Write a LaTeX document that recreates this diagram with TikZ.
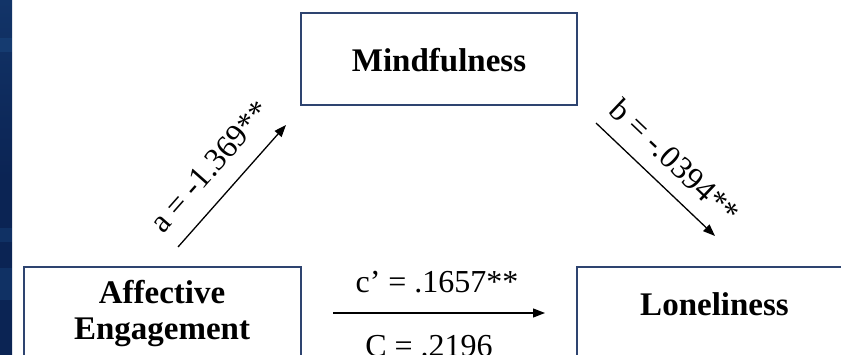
\documentclass[tikz,border=0pt]{standalone}
\usepackage{fontspec}
\setmainfont{Liberation Serif}
\usetikzlibrary{arrows.meta}
\definecolor{frame}{HTML}{2E4470}
\definecolor{navyA}{HTML}{0B2454}
\definecolor{navyB}{HTML}{123468}
\definecolor{navyC}{HTML}{1C4A82}
\tikzset{
  varbox/.style={draw=frame, line width=1.6pt, fill=white, minimum width=276pt, minimum height=92pt, inner sep=0pt},
  vartext/.style={font=\fontsize{33}{36}\selectfont\bfseries, inner sep=0pt, anchor=base},
  coef/.style={font=\fontsize{32}{36}\selectfont, inner sep=0pt},
  patharrow/.style={line width=1.3pt, -{Triangle[length=12pt,width=9pt]}}
}
\begin{document}
\begin{tikzpicture}[x=1pt,y=-1pt]
\useasboundingbox (0,0) rectangle (841,355);
\clip (0,0) rectangle (841,355);
\fill[white] (0,0) rectangle (841,355);
% left textured strip
\shade[top color=navyB, bottom color=navyA, middle color=navyA] (0,0) rectangle (12,355);
\fill[navyC, opacity=0.45] (0,38) rectangle (12,52);
\fill[navyC, opacity=0.35] (0,228) rectangle (12,242);
\fill[navyC, opacity=0.35] (0,268) rectangle (12,300);
% boxes
\node[varbox] (mindbox) at (439,59) {};
\node[varbox, minimum width=277pt] (aebox) at (162.5,313) {};
\node[varbox, minimum width=275pt] (lonbox) at (714.5,313) {};
% box texts
\node[vartext] (mindtext) at (439,72) {Mindfulness};
\node[vartext] (aetext1) at (162,304) {Affective};
\node[vartext] (aetext2) at (162,340) {Engagement};
\node[vartext] (lontext) at (714.5,316) {Loneliness};
% arrow end points
\coordinate (aStart) at (178,247);
\coordinate (aEnd) at (286,125);
\coordinate (bStart) at (596,123);
\coordinate (bEnd) at (715,236);
\coordinate (cStart) at (333,313);
\coordinate (cEnd) at (545,313);
\draw[patharrow] (aStart) -- (aEnd);
\draw[patharrow] (bStart) -- (bEnd);
\draw[patharrow] (cStart) -- (cEnd);
% coefficient labels
\node[coef, rotate=48.5] (alabel) at (210,167) {a = -1.369**};
\node[coef, rotate=-43.5] (blabel) at (675,161) {b = -.0394**};
\node[coef, anchor=base] (cplabel) at (437,293) {c’ = .1657**};
\node[coef, anchor=base] (clabel) at (429,357) {C = .2196};
\end{tikzpicture}
\end{document}
